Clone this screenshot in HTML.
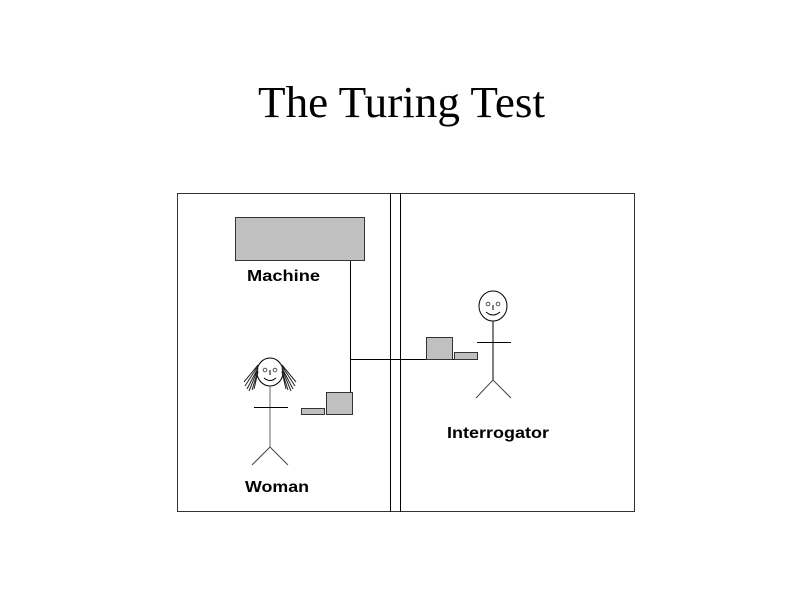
<!DOCTYPE html>
<html><head><meta charset="utf-8"><style>html,body{margin:0;padding:0;background:#fff}svg{display:block}</style></head>
<body>
<svg width="800" height="600" viewBox="0 0 800 600" xmlns="http://www.w3.org/2000/svg">
<rect width="800" height="600" fill="#fff"/>
<text x="258" y="117" font-family="Liberation Serif, serif" font-size="44" textLength="287" lengthAdjust="spacingAndGlyphs">The Turing Test</text>
<g fill="none" stroke="#000" stroke-width="1">
<rect x="177.5" y="193.5" width="457" height="318" stroke="#333"/>
<line x1="390.5" y1="193" x2="390.5" y2="512"/>
<line x1="400.5" y1="193" x2="400.5" y2="512"/>
<line x1="350.5" y1="261" x2="350.5" y2="392"/>
<line x1="350" y1="359.5" x2="478" y2="359.5"/>
</g>
<rect x="235.5" y="217.5" width="129" height="43" fill="#c0c0c0" stroke="#333"/>
<rect x="326.5" y="392.5" width="26" height="22" fill="#c0c0c0" stroke="#333"/>
<rect x="301.5" y="408.5" width="23" height="6" fill="#c0c0c0" stroke="#333"/>
<rect x="426.5" y="337.5" width="26" height="22" fill="#c0c0c0" stroke="#333"/>
<rect x="454.5" y="352.5" width="23" height="7" fill="#c0c0c0" stroke="#333"/>
<g fill="none" stroke="#000" stroke-width="1">
<ellipse cx="270" cy="372" rx="13" ry="14"/>
<line x1="270" y1="386" x2="270" y2="447" stroke="#666"/>
<line x1="254" y1="407.5" x2="288" y2="407.5"/>
<line x1="270" y1="447" x2="252" y2="465" stroke="#444"/>
<line x1="270" y1="447" x2="288" y2="465" stroke="#444"/>
<path d="M264 378 Q270 383 276 378"/>
<line x1="270" y1="370" x2="270" y2="375"/>
<path d="M258 365 L244 382 M258 366 L245 386 M258 368 L247 389 M258 369 L249 391 M258 371 L252 390 M258 372 L254 389 M282 365 L296 382 M282 366 L295 386 M282 368 L293 389 M282 369 L291 391 M282 371 L288 390 M282 372 L286 389" stroke="#222"/>
</g>
<circle cx="265" cy="370" r="1.8" fill="none" stroke="#555"/>
<circle cx="275" cy="370" r="1.8" fill="none" stroke="#555"/>
<g fill="none" stroke="#000" stroke-width="1">
<ellipse cx="493" cy="306" rx="14" ry="15"/>
<line x1="493" y1="321" x2="493" y2="380"/>
<line x1="477" y1="342.5" x2="511" y2="342.5"/>
<line x1="493" y1="380" x2="476" y2="398" stroke="#444"/>
<line x1="493" y1="380" x2="511" y2="398" stroke="#444"/>
<path d="M486 312 Q493 318 500 312"/>
<line x1="493" y1="305" x2="493" y2="310"/>
</g>
<circle cx="488" cy="304" r="1.8" fill="none" stroke="#555"/>
<circle cx="498" cy="304" r="1.8" fill="none" stroke="#555"/>
<g font-family="Liberation Sans, sans-serif" font-weight="bold" font-size="16" fill="#000">
<text x="247" y="281" textLength="73" lengthAdjust="spacingAndGlyphs">Machine</text>
<text x="245" y="492" textLength="64" lengthAdjust="spacingAndGlyphs">Woman</text>
<text x="447" y="438" textLength="102" lengthAdjust="spacingAndGlyphs">Interrogator</text>
</g>
</svg>
</body></html>
